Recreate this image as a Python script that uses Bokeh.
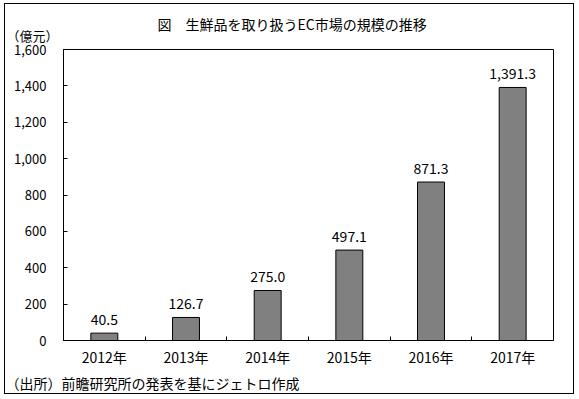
from bokeh.plotting import figure
from bokeh.models import FixedTicker, NumeralTickFormatter, Title, Range1d, ColumnDataSource
from bokeh.core.properties import value
from bokeh.embed import file_html
from bokeh.resources import INLINE

# ---- data ----
years = ["2012年", "2013年", "2014年", "2015年", "2016年", "2017年"]
market_size = [40.5, 126.7, 275.0, 497.1, 871.3, 1391.3]
y_ticks = [0, 200, 400, 600, 800, 1000, 1200, 1400, 1600]

title_text = "図　生鮮品を取り扱うEC市場の規模の推移"
unit_text = "（億元）"
source_text = "（出所）前瞻研究所の発表を基にジェトロ作成"

FONT = "Noto Sans CJK JP"

n = len(years)
centers = [i + 0.5 for i in range(n)]
labels = [f"{v:,.1f}" for v in market_size]
src = ColumnDataSource(dict(x=centers, top=market_size, label=labels))

p = figure(width=570, height=391, output_backend="svg", toolbar_location=None,
           x_range=Range1d(0, n), y_range=Range1d(0, 1600),
           min_border_left=58, min_border_right=22, min_border_top=45, min_border_bottom=55)
p.styles = {"margin-left": "4px", "margin-top": "3px", "border": "1px solid black"}

p.vbar(x="x", top="top", width=0.33, bottom=0, source=src,
       fill_color="#808080", line_color="black", line_width=1)
p.text(x="x", y="top", text="label", source=src, text_align="center",
       text_baseline="bottom", y_offset=-8, text_font=value(FONT),
       text_font_size="14px", text_color="black")

p.xgrid.visible = False
p.ygrid.visible = False
p.outline_line_color = "black"
p.outline_line_width = 1
p.outline_line_alpha = 1

# x axis: labels at centers, tick marks at boundaries
p.xaxis.ticker = FixedTicker(ticks=centers, minor_ticks=list(range(1, n)))
p.xaxis.major_label_overrides = {c: y for c, y in zip(centers, years)}
p.xaxis.major_tick_in = 0
p.xaxis.major_tick_out = 0
p.xaxis.minor_tick_in = 4
p.xaxis.minor_tick_out = 0
p.xaxis.minor_tick_line_color = "black"
p.xaxis.major_label_standoff = 6
p.xaxis.major_label_text_font = FONT
p.xaxis.major_label_text_font_size = "14px"
p.xaxis.major_label_text_color = "black"
p.xaxis.axis_line_color = "black"

# y axis
p.yaxis.ticker = FixedTicker(ticks=y_ticks)
p.yaxis.formatter = NumeralTickFormatter(format="0,0")
p.yaxis.major_tick_in = 4
p.yaxis.major_tick_out = 0
p.yaxis.minor_tick_line_color = None
p.yaxis.major_tick_line_color = "black"
p.yaxis.major_label_standoff = 17
p.yaxis.major_label_text_font = FONT
p.yaxis.major_label_text_font_size = "13px"
p.yaxis.major_label_text_color = "black"
p.yaxis.axis_line_color = "black"

# titles
p.title.text = title_text
p.title.align = "left"
p.title.offset = 94
p.title.vertical_align = "bottom"
p.title.standoff = -22
p.title.text_font = FONT
p.title.text_font_size = "14px"
p.title.text_font_style = "normal"
p.title.text_color = "black"

p.add_layout(Title(text=unit_text, align="left", offset=-57, standoff=6,
                   vertical_align="top",
                   text_font=FONT, text_font_size="13px", text_font_style="normal",
                   text_color="black"), "above")
p.add_layout(Title(text=source_text, align="left", offset=-58, standoff=2,
                   text_font=FONT, text_font_size="14px", text_font_style="normal",
                   text_color="black"), "below")

open("out.html", "w").write(file_html(p, INLINE))
